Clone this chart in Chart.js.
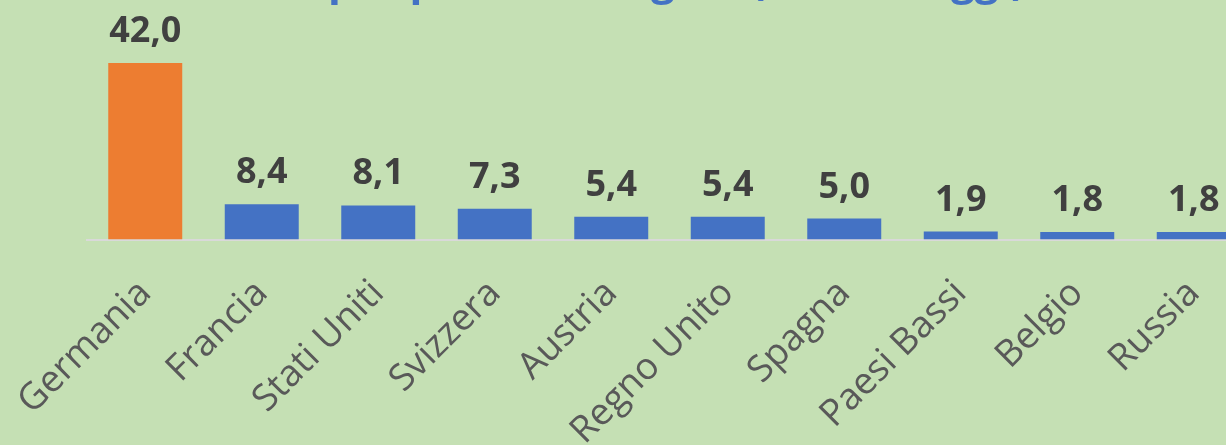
<!DOCTYPE html>
<html lang="it">
<head>
<meta charset="utf-8">
<script src="https://cdn.jsdelivr.net/npm/chart.js@4.4.1/dist/chart.umd.min.js"></script>
<style>
  html, body { margin: 0; padding: 0; background: #c5e0b4; overflow: hidden; }
  #wrap { position: absolute; left: 0; top: 0; width: 1262px; height: 445px; }
</style>
</head>
<body>
<div id="wrap"><canvas id="chart" width="1262" height="445"></canvas></div>
<script>
const TITLE = 'Arrivi per paese di origine (% dei viaggi)';
const countries = ['Germania', 'Francia', 'Stati Uniti', 'Svizzera', 'Austria', 'Regno Unito', 'Spagna', 'Paesi Bassi', 'Belgio', 'Russia'];
const shares = [42.0, 8.4, 8.1, 7.3, 5.4, 5.4, 5.0, 1.9, 1.8, 1.8];
const highlighted = 'Germania';

const ORANGE = '#ed7d31';
const BLUE = '#4472c4';

function formatShare(v) {
  return v.toLocaleString('it-IT', { minimumFractionDigits: 1, maximumFractionDigits: 1 });
}

// value labels above each bar
const valueLabels = {
  id: 'valueLabels',
  afterDatasetsDraw(chart) {
    const ctx = chart.ctx;
    const meta = chart.getDatasetMeta(0);
    ctx.save();
    ctx.font = 'bold 36px "Open Sans"';
    ctx.fillStyle = '#404040';
    ctx.textAlign = 'center';
    ctx.textBaseline = 'alphabetic';
    meta.data.forEach((bar, i) => {
      ctx.fillText(formatShare(shares[i]), bar.x, bar.y - 21);
    });
    ctx.restore();
  }
};

// title sits mostly above the visible area, as in the original crop
const topTitle = {
  id: 'topTitle',
  beforeDraw(chart) {
    const ctx = chart.ctx;
    ctx.save();
    ctx.font = 'bold 42px "Open Sans"';
    ctx.fillStyle = BLUE;
    ctx.textAlign = 'center';
    ctx.textBaseline = 'alphabetic';
    ctx.fillText(TITLE, 613, -5);
    ctx.restore();
  }
};

new Chart(document.getElementById('chart'), {
  type: 'bar',
  data: {
    labels: countries,
    datasets: [{
      data: shares,
      backgroundColor: ctx => countries[ctx.dataIndex] === highlighted ? ORANGE : BLUE,
      barPercentage: 0.635,
      categoryPercentage: 1
    }]
  },
  options: {
    responsive: false,
    animation: false,
    layout: { padding: { left: 87, right: 10, top: 29.5, bottom: 0 } },
    plugins: {
      legend: { display: false },
      title: { display: false },
      tooltip: { enabled: false }
    },
    scales: {
      x: {
        grid: { display: false, drawTicks: false },
        border: { display: true, color: '#d9d9d9', width: 2 },
        ticks: {
          color: '#595959',
          font: { family: '"Open Sans"', size: 37 },
          minRotation: 45,
          maxRotation: 45,
          padding: 32,
          autoSkip: false
        },
        afterFit(scale) {
          scale.height = 445 - 239.5;
          scale.paddingLeft = 0;
          scale.paddingRight = 0;
        }
      },
      y: {
        display: false,
        min: 0,
        max: 50
      }
    }
  },
  plugins: [topTitle, valueLabels]
});
</script>
</body>
</html>
